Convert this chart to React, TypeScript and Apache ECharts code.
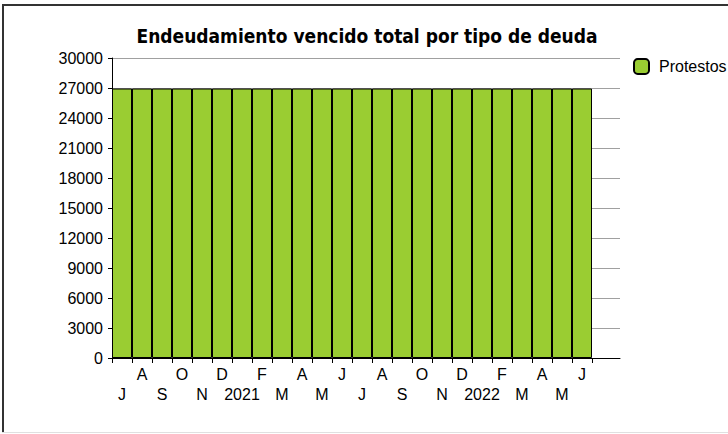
import React, { useEffect, useRef } from "react";
import * as echarts from "echarts";

const title = "Endeudamiento vencido total por tipo de deuda";
const seriesName = "Protestos";
const months = ["J", "A", "S", "O", "N", "D", "2021", "F", "M", "A", "M", "J", "J", "A", "S", "O", "N", "D", "2022", "F", "M", "A", "M", "J"];
const protestos = [26950, 26950, 26950, 26950, 26950, 26950, 26950, 26950, 26950, 26950, 26950, 26950, 26950, 26950, 26950, 26950, 26950, 26950, 26950, 26950, 26950, 26950, 26950, 26950];
const yMin = 0;
const yMax = 30000;
const yStep = 3000;

const FONT = "'Liberation Sans', Arial, sans-serif";
const TITLE_FONT = "'DejaVu Sans Condensed', 'Liberation Sans', sans-serif";

export default function App() {
  const ref = useRef<HTMLDivElement>(null);
  useEffect(() => {
    if (!ref.current) return;
    const chart = echarts.init(ref.current, undefined, { renderer: "svg" });
    chart.setOption({
      animation: false,
      backgroundColor: "#ffffff",
      title: {
        text: title,
        left: 367,
        textAlign: "center",
        top: 26,
        padding: 0,
        textStyle: { fontFamily: TITLE_FONT, fontSize: 19, fontWeight: "bold", color: "#000" },
      },
      legend: {
        left: 633,
        top: 58,
        padding: 0,
        itemWidth: 15,
        itemHeight: 15,
        itemGap: 10,
        icon: "roundRect",
        textStyle: { fontFamily: FONT, fontSize: 16, color: "#000", padding: [0, 0, 0, 5] },
        data: [seriesName],
      },
      grid: [
        { left: 112, top: 58, width: 508, height: 300, containLabel: false },
        { left: 112, top: 58, width: 480, height: 300, containLabel: false },
      ],
      xAxis: [
        {
          gridIndex: 0,
          type: "value",
          min: 0,
          max: 1,
          axisLine: { show: true, onZero: false, lineStyle: { color: "#000", width: 1 } },
          axisTick: { show: false },
          axisLabel: { show: false },
          splitLine: { show: false },
        },
        {
          gridIndex: 1,
          type: "category",
          data: months,
          axisLine: { show: false },
          axisTick: { show: true, length: 5, lineStyle: { color: "#000" } },
          axisLabel: {
            interval: 0,
            margin: 6,
            fontFamily: FONT,
            fontSize: 16,
            lineHeight: 20,
            color: "#000",
            formatter: (v: string, i: number) => (i % 2 === 0 ? "\n" + v : v),
          },
          splitLine: { show: false },
        },
      ],
      yAxis: [
        {
          gridIndex: 0,
          type: "value",
          min: yMin,
          max: yMax,
          interval: yStep,
          axisLine: { show: true, lineStyle: { color: "#000" } },
          axisTick: { show: true, length: 4, lineStyle: { color: "#000" } },
          axisLabel: {
            margin: 9,
            fontFamily: FONT,
            fontSize: 16,
            color: "#000",
            formatter: (v: number) => String(v),
          },
          splitLine: { show: true, lineStyle: { color: "#a0a0a0", width: 1 } },
        },
        {
          gridIndex: 1,
          type: "value",
          min: yMin,
          max: yMax,
          interval: yStep,
          show: false,
          splitLine: { show: false },
        },
      ],
      series: [
        {
          name: seriesName,
          type: "bar",
          xAxisIndex: 1,
          yAxisIndex: 1,
          data: protestos,
          barCategoryGap: 0,
          itemStyle: { color: "#9acd32", borderColor: "#000", borderWidth: 1 },
          emphasis: { disabled: true },
        },
      ],
      graphic: [
        { type: "line", shape: { x1: 2, y1: 5, x2: 728, y2: 5 }, style: { stroke: "#333", lineWidth: 2 } },
        { type: "line", shape: { x1: 3, y1: 4, x2: 3, y2: 433 }, style: { stroke: "#333", lineWidth: 2 } },
        { type: "line", shape: { x1: 2, y1: 432.5, x2: 728, y2: 432.5 }, style: { stroke: "#e0e0e0", lineWidth: 1 } },
      ],
    });
    return () => chart.dispose();
  }, []);
  return <div ref={ref} style={{ position: "fixed", left: 0, top: 0, width: 728, height: 434 }} />;
}
